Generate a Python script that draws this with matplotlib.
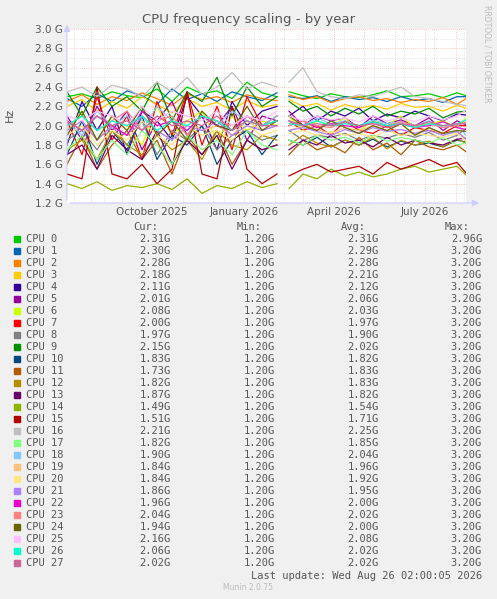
import numpy as np
import matplotlib.pyplot as plt

# sample positions in days from the left edge of the graph (gap around day 216)
days = [0, 15, 30, 45, 60, 75, 90, 105, 120, 135, 150, 165, 180, 195, 210, 216,
        222, 236, 250, 264, 278, 292, 306, 320, 334, 348, 362, 376, 390, 399]

n = np.nan
cpu_freq = [
    [2.30, 2.33, 2.28, 2.35, 2.31, 2.29, 2.38, 2.25, 2.40, 2.33, 2.36, 2.28, 2.45, 2.34, 2.30, n, 2.35, 2.31, 2.28, 2.33, 2.30, 2.29, 2.32, 2.36, 2.30, 2.31, 2.33, 2.29, 2.34, 2.31],
    [2.28, 2.20, 2.33, 2.25, 2.36, 2.31, 2.22, 2.38, 2.27, 2.33, 2.25, 2.35, 2.30, 2.26, 2.34, n, 2.30, 2.28, 2.31, 2.25, 2.30, 2.27, 2.29, 2.25, 2.30, 2.26, 2.28, 2.24, 2.30, 2.30],
    [2.25, 2.32, 2.22, 2.30, 2.26, 2.34, 2.28, 2.21, 2.33, 2.27, 2.30, 2.24, 2.32, 2.28, 2.26, n, 2.32, 2.27, 2.30, 2.24, 2.28, 2.30, 2.26, 2.28, 2.24, 2.27, 2.25, 2.29, 2.22, 2.28],
    [2.20, 2.27, 2.15, 2.25, 2.18, 2.30, 2.22, 2.13, 2.28, 2.20, 2.24, 2.16, 2.26, 2.19, 2.22, n, 2.27, 2.20, 2.23, 2.16, 2.22, 2.18, 2.21, 2.17, 2.23, 2.19, 2.20, 2.15, 2.21, 2.18],
    [1.80, 2.25, 1.95, 2.20, 1.70, 2.15, 2.05, 1.85, 2.30, 2.10, 1.75, 2.25, 2.00, 2.15, 2.20, n, 2.10, 2.20, 2.05, 2.15, 2.10, 2.18, 2.05, 2.12, 2.08, 2.15, 2.10, 2.05, 2.12, 2.11],
    [2.10, 1.85, 2.20, 1.95, 2.15, 1.75, 2.05, 2.25, 1.90, 2.10, 2.00, 2.20, 1.85, 2.10, 2.05, n, 2.15, 2.00, 2.10, 2.05, 2.08, 1.98, 2.10, 2.02, 2.06, 2.00, 2.08, 1.95, 2.05, 2.01],
    [1.95, 2.15, 1.85, 2.10, 2.00, 1.80, 2.20, 1.90, 2.05, 2.15, 1.85, 2.10, 1.95, 2.05, 2.00, n, 2.10, 1.95, 2.05, 2.00, 2.08, 1.95, 2.05, 2.00, 2.10, 1.98, 2.02, 2.05, 1.98, 2.08],
    [2.05, 1.70, 2.30, 1.85, 2.10, 1.65, 2.25, 1.90, 2.35, 1.80, 2.20, 1.75, 2.30, 2.00, 2.10, n, 2.05, 1.95, 2.00, 1.90, 2.05, 1.95, 1.92, 2.00, 1.90, 1.98, 1.95, 1.92, 2.00, 2.00],
    [1.85, 1.95, 1.75, 2.00, 1.80, 2.05, 1.70, 1.95, 1.85, 2.00, 1.75, 1.90, 1.95, 1.85, 1.90, n, 1.95, 1.85, 1.90, 1.88, 1.92, 1.85, 1.90, 1.87, 1.92, 1.88, 1.93, 1.85, 1.90, 1.97],
    [2.35, 2.10, 2.40, 2.20, 2.30, 2.15, 2.45, 2.05, 2.35, 2.25, 2.50, 2.10, 2.40, 2.20, 2.30, n, 2.25, 2.15, 2.20, 2.10, 2.18, 2.12, 2.20, 2.10, 2.15, 2.12, 2.18, 2.08, 2.14, 2.15],
    [1.70, 2.05, 1.60, 1.95, 1.75, 2.10, 1.65, 1.90, 1.80, 2.00, 1.60, 1.85, 1.95, 1.70, 1.90, n, 1.85, 1.80, 1.88, 1.78, 1.85, 1.80, 1.86, 1.78, 1.84, 1.80, 1.82, 1.78, 1.85, 1.83],
    [1.60, 1.90, 1.55, 1.80, 1.95, 1.65, 1.85, 1.50, 1.90, 1.70, 1.95, 1.60, 1.85, 1.75, 1.80, n, 1.70, 1.85, 1.75, 1.80, 1.72, 1.88, 1.75, 1.82, 1.70, 1.85, 1.78, 1.75, 1.80, 1.73],
    [1.75, 1.85, 1.65, 1.95, 1.80, 1.70, 1.90, 1.75, 1.85, 1.65, 1.95, 1.80, 1.75, 1.90, 1.85, n, 1.80, 1.90, 1.82, 1.78, 1.85, 1.80, 1.88, 1.76, 1.85, 1.80, 1.84, 1.78, 1.86, 1.82],
    [1.70, 1.80, 1.55, 1.90, 1.75, 1.65, 1.95, 1.60, 1.85, 1.70, 1.90, 1.55, 1.85, 1.75, 1.80, n, 1.75, 1.85, 1.80, 1.90, 1.82, 1.85, 1.78, 1.88, 1.80, 1.85, 1.82, 1.80, 1.86, 1.87],
    [1.40, 1.35, 1.42, 1.33, 1.38, 1.36, 1.40, 1.34, 1.45, 1.30, 1.38, 1.35, 1.42, 1.36, 1.40, n, 1.35, 1.50, 1.45, 1.55, 1.48, 1.52, 1.47, 1.50, 1.55, 1.58, 1.52, 1.55, 1.58, 1.49],
    [1.50, 1.45, 2.40, 1.50, 1.45, 1.60, 1.40, 1.55, 2.35, 1.50, 1.45, 2.20, 1.55, 1.40, 1.50, n, 1.48, 1.55, 1.60, 1.52, 1.55, 1.58, 1.50, 1.62, 1.55, 1.60, 1.65, 1.58, 1.62, 1.51],
    [2.35, 2.40, 2.30, 2.42, 2.38, 2.30, 2.45, 2.35, 2.50, 2.32, 2.40, 2.55, 2.38, 2.45, 2.40, n, 2.45, 2.60, 2.35, 2.30, 2.28, 2.32, 2.30, 2.35, 2.40, 2.30, 2.28, 2.25, 2.22, 2.21],
    [1.75, 1.90, 1.65, 1.85, 1.70, 1.95, 1.80, 1.60, 1.90, 1.75, 1.85, 1.70, 1.95, 1.80, 1.75, n, 1.85, 1.80, 1.90, 1.85, 1.88, 1.82, 1.90, 1.84, 1.88, 1.85, 1.82, 1.88, 1.80, 1.82],
    [2.05, 1.90, 2.15, 2.00, 2.10, 1.95, 2.20, 2.05, 1.95, 2.10, 2.00, 2.15, 2.05, 2.00, 2.10, n, 2.05, 2.00, 2.08, 2.02, 2.05, 2.00, 2.06, 2.02, 2.04, 2.00, 2.05, 1.98, 2.02, 1.90],
    [1.95, 2.05, 1.85, 2.00, 1.90, 2.10, 1.95, 1.85, 2.05, 1.95, 2.00, 1.90, 2.05, 1.95, 2.00, n, 1.95, 2.00, 1.96, 1.92, 1.98, 1.95, 2.00, 1.94, 1.96, 1.92, 1.98, 1.90, 1.95, 1.84],
    [1.90, 2.00, 1.80, 1.95, 1.85, 2.05, 1.90, 1.80, 2.00, 1.90, 1.95, 1.85, 2.00, 1.90, 1.95, n, 1.92, 1.95, 1.90, 1.94, 1.90, 1.92, 1.88, 1.95, 1.90, 1.92, 1.90, 1.88, 1.92, 1.84],
    [1.95, 2.05, 1.85, 2.00, 1.90, 2.10, 1.95, 1.85, 2.00, 1.95, 2.05, 1.90, 2.00, 1.95, 2.00, n, 1.95, 1.98, 1.94, 1.90, 1.96, 1.92, 1.98, 1.94, 1.96, 1.92, 1.95, 1.90, 1.94, 1.86],
    [2.05, 1.95, 2.10, 2.00, 1.90, 2.15, 2.00, 2.05, 1.95, 2.10, 2.00, 1.95, 2.10, 2.00, 2.05, n, 2.00, 2.05, 1.98, 2.02, 2.00, 1.98, 2.04, 2.00, 2.02, 1.98, 2.00, 2.04, 1.98, 1.96],
    [2.00, 2.10, 1.95, 2.05, 2.15, 1.95, 2.05, 2.10, 1.90, 2.10, 2.05, 2.00, 2.10, 2.00, 2.05, n, 2.00, 2.05, 2.00, 1.98, 2.04, 2.00, 2.02, 2.00, 2.04, 2.00, 2.02, 1.98, 2.00, 2.04],
    [1.90, 2.15, 1.85, 2.10, 1.95, 2.20, 1.90, 2.05, 1.85, 2.15, 2.00, 1.95, 2.20, 1.95, 2.05, n, 2.10, 2.00, 1.95, 2.05, 1.98, 1.92, 2.00, 1.95, 2.02, 1.90, 1.98, 1.92, 1.95, 1.94],
    [2.10, 2.05, 2.15, 2.10, 2.00, 2.20, 2.05, 2.15, 2.10, 2.05, 2.15, 2.00, 2.10, 2.05, 2.15, n, 2.10, 2.05, 2.10, 2.06, 2.08, 2.04, 2.10, 2.05, 2.08, 2.04, 2.10, 2.06, 2.10, 2.16],
    [2.00, 2.10, 1.95, 2.05, 2.00, 2.10, 1.95, 2.05, 2.00, 2.10, 2.05, 1.95, 2.05, 2.00, 2.05, n, 2.02, 2.00, 2.05, 2.00, 2.02, 2.00, 2.04, 2.00, 2.02, 1.98, 2.02, 2.00, 2.02, 2.06],
    [2.05, 1.95, 2.10, 2.00, 2.05, 1.95, 2.10, 2.00, 2.05, 2.00, 2.10, 1.95, 2.05, 2.00, 2.00, n, 2.05, 2.00, 2.02, 2.00, 2.04, 2.00, 2.02, 1.98, 2.02, 2.00, 2.04, 2.00, 2.02, 2.02],
]

colors = ["#00CC00", "#0066B3", "#FF8000", "#FFCC00", "#330099", "#990099", "#CCFF00",
          "#FF0000", "#808080", "#008F00", "#00487D", "#B35A00", "#B38F00", "#6B006B",
          "#8FB300", "#B30000", "#BEBEBE", "#80FF80", "#80C9FF", "#FFC080", "#FFE680",
          "#AA80FF", "#EE00CC", "#FF8080", "#666600", "#FFBFFF", "#00FFCC", "#CC6699"]

cur = ["2.31G", "2.30G", "2.28G", "2.18G", "2.11G", "2.01G", "2.08G", "2.00G", "1.97G", "2.15G",
       "1.83G", "1.73G", "1.82G", "1.87G", "1.49G", "1.51G", "2.21G", "1.82G", "1.90G", "1.84G",
       "1.84G", "1.86G", "1.96G", "2.04G", "1.94G", "2.16G", "2.06G", "2.02G"]
avg = ["2.31G", "2.29G", "2.28G", "2.21G", "2.12G", "2.06G", "2.03G", "1.97G", "1.90G", "2.02G",
       "1.82G", "1.83G", "1.83G", "1.82G", "1.54G", "1.71G", "2.25G", "1.85G", "2.04G", "1.96G",
       "1.92G", "1.95G", "2.00G", "2.02G", "2.00G", "2.08G", "2.02G", "2.02G"]
mins = ["1.20G"] * 28
maxs = ["2.96G"] + ["3.20G"] * 27

month_ticks = [85, 177, 267, 358]
month_labels = ["October 2025", "January 2026", "April 2026", "July 2026"]

W, H = 497, 599
fig = plt.figure(figsize=(W / 100, H / 100), dpi=100, facecolor="#F0F0F0")
ax = fig.add_axes([67 / W, 1 - 203 / H, 399 / W, 174 / H])
ax.set_facecolor("white")

# grid
for y in np.arange(1.2, 3.01, 0.1):
    major = abs((y * 10) % 2) < 1e-6 or abs((y * 10) % 2 - 2) < 1e-6
    ax.axhline(y, color="#FF9999" if major else "#CCCCCC", lw=0.5, ls=(0, (1, 2)), zorder=0)
for x in range(7, 400, 30):
    ax.axvline(x, color="#CCCCCC", lw=0.5, ls=(0, (1, 2)), zorder=0)
for x in [24, 55, 85, 116, 146, 177, 208, 236, 267, 297, 328, 358, 389]:
    ax.axvline(x, color="#FF9999", lw=0.5, ls=(0, (1, 2)), zorder=0)

for vals, c in zip(cpu_freq, colors):
    ax.plot(days, vals, color=c, lw=0.9)

ax.set_xlim(0, 399)
ax.set_ylim(1.2, 3.0)
ax.set_yticks(np.arange(1.2, 3.01, 0.2))
ax.set_yticklabels(["%.1f G" % v for v in np.arange(1.2, 3.01, 0.2)])
ax.set_xticks(month_ticks)
ax.set_xticklabels(month_labels)
ax.tick_params(colors="#555555", labelsize=7.5, length=0, pad=3)
for s in ax.spines.values():
    s.set_visible(False)
ax.annotate("", xy=(0, 1.04), xytext=(0, 0), xycoords="axes fraction",
            arrowprops=dict(arrowstyle="-|>", color="#CCCCFF", lw=0.8))
ax.annotate("", xy=(1.04, 0), xytext=(0, 0), xycoords="axes fraction",
            arrowprops=dict(arrowstyle="-|>", color="#CCCCFF", lw=0.8))

fig.text(0.5, 1 - 19 / H, "CPU frequency scaling - by year", ha="center", va="center",
         fontsize=9.5, color="#555555")
fig.text(10 / W, 1 - 115 / H, "Hz", rotation=90, ha="center", va="center", fontsize=8, color="#555555")
fig.text(487 / W, 1 - 5 / H, "RRDTOOL / TOBI OETIKER", rotation=270, ha="center", va="top",
         fontsize=5.5, color="#BBBBBB")

mono = dict(family="DejaVu Sans Mono", fontsize=7.5, color="#555555", va="center")
fig.text(158 / W, 1 - 227 / H, "Cur:", ha="right", **mono)
fig.text(262 / W, 1 - 227 / H, "Min:", ha="right", **mono)
fig.text(366 / W, 1 - 227 / H, "Avg:", ha="right", **mono)
fig.text(470 / W, 1 - 227 / H, "Max:", ha="right", **mono)
for i in range(28):
    y = 1 - (239 + 12 * i) / H
    fig.patches.append(plt.Rectangle((14 / W, y - 3 / H), 6 / W, 6 / H, color=colors[i],
                                     transform=fig.transFigure))
    fig.text(26 / W, y, "CPU %d" % i, ha="left", **mono)
    fig.text(171 / W, y, cur[i], ha="right", **mono)
    fig.text(275 / W, y, mins[i], ha="right", **mono)
    fig.text(379 / W, y, avg[i], ha="right", **mono)
    fig.text(482 / W, y, maxs[i], ha="right", **mono)
fig.text(482 / W, 1 - 576 / H, "Last update: Wed Aug 26 02:00:05 2026", ha="right", **mono)
fig.text(248 / W, 1 - 588 / H, "Munin 2.0.75", ha="center", va="center", fontsize=5.5, color="#BBBBBB")

fig.savefig("out.png", dpi=100, facecolor=fig.get_facecolor())
